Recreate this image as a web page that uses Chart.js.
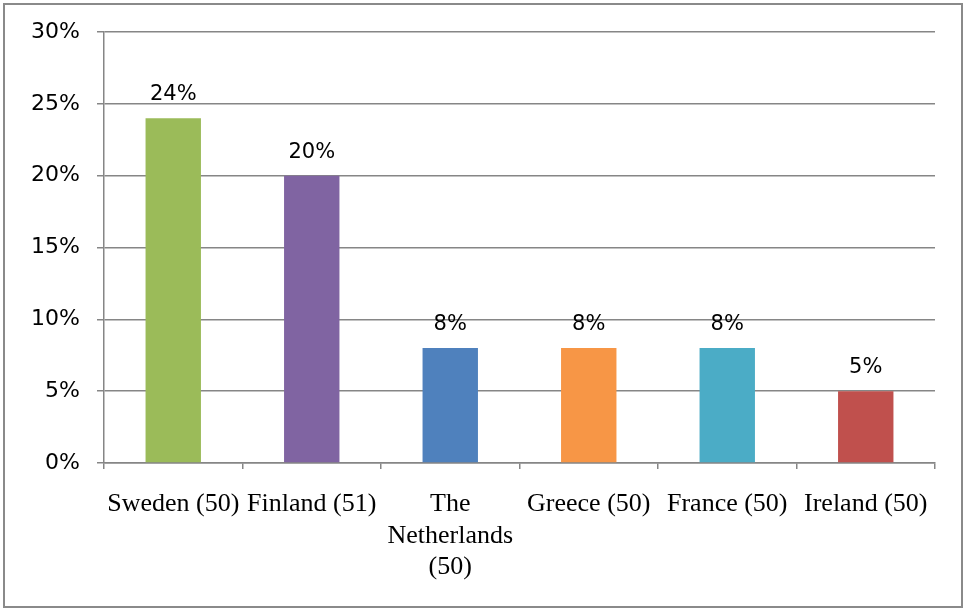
<!DOCTYPE html>
<html>
<head>
<meta charset="utf-8">
<script src="https://cdn.jsdelivr.net/npm/chart.js@4"></script>
<style>
  html, body { margin: 0; padding: 0; background: #fff; }
  #wrap { position: relative; width: 965px; height: 610px; }
  #frame { position: absolute; left: 3px; top: 3px; width: 956px; height: 601px;
           border: 2px solid #8a8a8a; pointer-events: none; }
</style>
</head>
<body>
<div id="wrap">
  <canvas id="myChart" width="965" height="610"></canvas>
  <div id="frame"></div>
</div>
<script>
// data
const countries = [
  ["Sweden (50)"],
  ["Finland (51)"],
  ["The", "Netherlands", "(50)"],
  ["Greece (50)"],
  ["France (50)"],
  ["Ireland (50)"],
];
const shares = [24, 20, 8, 8, 8, 5];
const barColors = ["#9bbb59", "#8064a2", "#4f81bd", "#f79646", "#4bacc6", "#c0504d"];
const yTicks = [0, 5, 10, 15, 20, 25, 30];

const gridGray = "#868686";

// labels above bars ("24%")
const valueLabels = {
  id: "valueLabels",
  afterDatasetsDraw(chart) {
    const ctx = chart.ctx;
    const meta = chart.getDatasetMeta(0);
    ctx.save();
    ctx.font = '21px "DejaVu Sans"';
    ctx.fillStyle = "#000";
    ctx.textAlign = "center";
    ctx.textBaseline = "alphabetic";
    meta.data.forEach((bar, i) => {
      ctx.fillText(shares[i] + "%", bar.x, bar.y - 18);
    });
    ctx.restore();
  },
};

const config = {
  type: "bar",
  data: {
    labels: countries,
    datasets: [
      {
        data: shares,
        backgroundColor: barColors,
        borderWidth: 0,
        barPercentage: 0.4,
        categoryPercentage: 1,
      },
    ],
  },
  options: {
    responsive: false,
    animation: false,
    layout: { padding: { top: 32, right: 30, left: 0, bottom: 0 } },
    plugins: { legend: { display: false }, tooltip: { enabled: false } },
    scales: {
      x: {
        afterFit(scale) { scale.height = 147; },
        border: { display: true, color: gridGray, width: 1.5 },
        grid: {
          display: true,
          drawOnChartArea: false,
          drawTicks: true,
          tickLength: 6,
          offset: true,
          color: gridGray,
          lineWidth: 1.5,
        },
        ticks: {
          color: "#000",
          padding: 20,
          maxRotation: 0,
          autoSkip: false,
          font: { family: '"Liberation Serif"', size: 26, lineHeight: 1.2 },
        },
      },
      y: {
        min: 0,
        max: 30,
        afterFit(scale) { scale.width = 104; },
        afterBuildTicks(scale) { scale.ticks = yTicks.map((v) => ({ value: v })); },
        border: { display: true, color: gridGray, width: 1.5 },
        grid: { color: gridGray, lineWidth: 1.5, tickLength: 7 },
        ticks: {
          color: "#000",
          padding: 17,
          callback: (v) => v + "%",
          font: { family: '"DejaVu Sans"', size: 22 },
        },
      },
    },
  },
  plugins: [valueLabels],
};

new Chart(document.getElementById("myChart"), config);
</script>
</body>
</html>
